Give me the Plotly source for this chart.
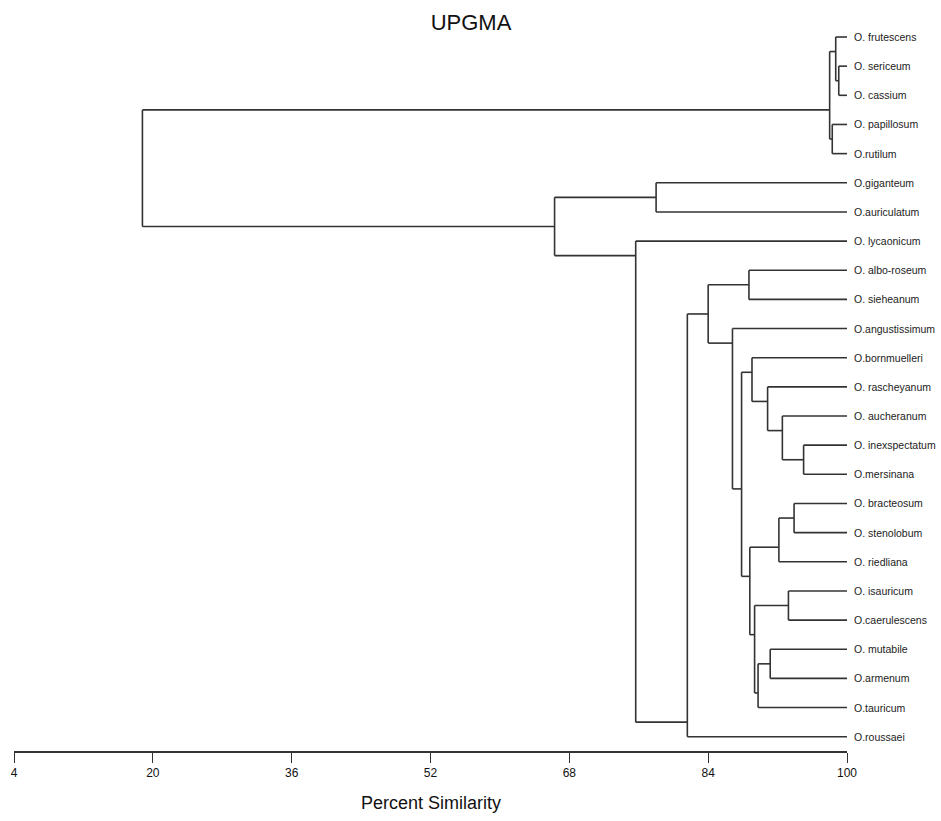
import plotly.graph_objects as go

# Leaf order (top to bottom)
leaves = [
    "O. frutescens", "O. sericeum", "O. cassium", "O. papillosum", "O.rutilum",
    "O.giganteum", "O.auriculatum", "O. lycaonicum", "O. albo-roseum", "O. sieheanum",
    "O.angustissimum", "O.bornmuelleri", "O. rascheyanum", "O. aucheranum",
    "O. inexspectatum", "O.mersinana", "O. bracteosum", "O. stenolobum", "O. riedliana",
    "O. isauricum", "O.caerulescens", "O. mutabile", "O.armenum", "O.tauricum", "O.roussaei",
]

# Merges (bottom-up): children are leaf names or "m<k>" for earlier merges
merge_left = [
    "O. sericeum", "O. frutescens", "O. papillosum", "m1",
    "O. inexspectatum", "O. aucheranum", "O. rascheyanum", "O.bornmuelleri",
    "O. bracteosum", "m8", "O. isauricum", "O. mutabile", "m11", "m10", "m9", "m7",
    "O.angustissimum", "O. albo-roseum", "m17", "m18", "O. lycaonicum",
    "O.giganteum", "m21", "m3",
]
merge_right = [
    "O. cassium", "m0", "O.rutilum", "m2",
    "O.mersinana", "m4", "m5", "m6",
    "O. stenolobum", "O. riedliana", "O.caerulescens", "O.armenum", "O.tauricum", "m12", "m13", "m14",
    "m15", "O. sieheanum", "m16", "O.roussaei", "m19",
    "O.auriculatum", "m20", "m22",
]
merge_sim = [
    99.05, 98.7, 98.3, 98.0,
    95.0, 92.55, 90.85, 89.05,
    93.9, 92.15, 93.25, 91.15, 89.75, 89.35, 88.8, 87.85,
    86.8, 88.7, 84.0, 81.6, 75.65,
    78.0, 66.3, 18.8,
]

tick_vals = [4, 20, 36, 52, 68, 84, 100]

# ---- compute dendrogram segments from the merge table ----
leaf_idx = {name: i for i, name in enumerate(leaves)}
node_y, node_x, node_max = {}, {}, {}


def child_info(c):
    if c in leaf_idx:
        i = leaf_idx[c]
        return 100.0, float(i), i
    return node_x[c], node_y[c], node_max[c]


xs, ys = [], []
for k, (a, b, s) in enumerate(zip(merge_left, merge_right, merge_sim)):
    ax_, ay, amax = child_info(a)
    bx, by, bmax = child_info(b)
    key = f"m{k}"
    node_x[key] = s
    node_y[key] = amax + 0.5
    node_max[key] = max(amax, bmax)
    # vertical
    xs += [s, s, None]
    ys += [ay, by, None]
    # horizontals
    xs += [s, ax_, None, s, bx, None]
    ys += [ay, ay, None, by, by, None]

fig = go.Figure()
fig.add_trace(go.Scatter(
    x=xs, y=ys, mode="lines",
    line=dict(color="#333333", width=1.6),
    hoverinfo="skip", showlegend=False,
))

fam = "Liberation Sans, Arial, sans-serif"

for i, name in enumerate(leaves):
    fig.add_annotation(
        x=100, y=i, xref="x", yref="y", text=name, showarrow=False,
        xanchor="left", yanchor="middle", xshift=5,
        font=dict(family=fam, size=10.5, color="#222222"),
    )

fig.add_annotation(
    x=0.5, y=0, xref="paper", yref="paper", text="Percent Similarity",
    showarrow=False, xanchor="center", yanchor="middle", yshift=-52,
    font=dict(family=fam, size=18, color="#111111"),
)

fig.update_layout(
    width=941, height=821,
    margin=dict(l=14, r=94, t=20, b=70),
    paper_bgcolor="white", plot_bgcolor="white",
    title=dict(text="UPGMA", x=471 / 941, y=1 - 22 / 821, xref="container",
               yref="container", xanchor="center", yanchor="middle",
               font=dict(family=fam, size=22, color="#111111")),
    xaxis=dict(range=[4, 100], tickvals=tick_vals, ticktext=[str(v) for v in tick_vals],
               ticks="outside", ticklen=10, tickwidth=1.3, tickcolor="#333333",
               showline=True, linecolor="#333333", linewidth=1.6,
               showgrid=False, zeroline=False,
               tickfont=dict(family=fam, size=12, color="#111111")),
    yaxis=dict(range=[24.49, -0.583], visible=False, showgrid=False, zeroline=False),
)

fig.write_html("out.html")
